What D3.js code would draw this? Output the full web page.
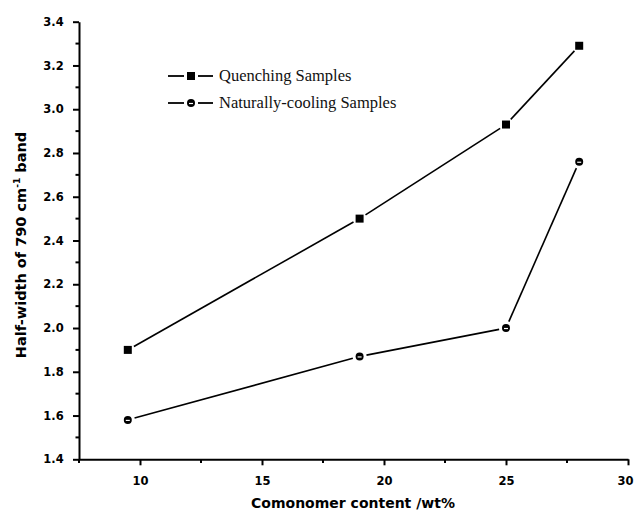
<!DOCTYPE html>
<html><head><meta charset="utf-8">
<script src="https://cdn.jsdelivr.net/npm/d3@7"></script>
<style>body{margin:0;background:#fff}</style></head>
<body><svg id="c" width="634" height="517"></svg>
<script>
const comonomer = [9.5, 19, 25, 28];
const quenching = [1.90, 2.50, 2.93, 3.29];
const naturallyCooling = [1.58, 1.87, 2.00, 2.76];
const seriesNames = ["Quenching Samples", "Naturally-cooling Samples"];
const xTicks = [10, 15, 20, 25, 30];
const yTicks = [1.4, 1.6, 1.8, 2.0, 2.2, 2.4, 2.6, 2.8, 3.0, 3.2, 3.4];

const svg = d3.select("#c");
const x = d3.scaleLinear().domain([7.5, 30]).range([79, 628]);
const y = d3.scaleLinear().domain([1.4, 3.4]).range([459.3, 21.7]);

const axisFont = "'DejaVu Sans', 'Liberation Sans', sans-serif";
const legendFont = "'Liberation Serif', 'DejaVu Serif', serif";

// minor ticks
const xMinor = d3.range(7.5, 30.01, 2.5).filter(v => !xTicks.includes(v));
const yMinor = d3.range(1.5, 3.41, 0.2);
svg.append("g").selectAll("line").data(xMinor).join("line")
  .attr("x1", d => x(d)).attr("x2", d => x(d)).attr("y1", 459.3).attr("y2", 463)
  .attr("stroke", "#000").attr("stroke-width", 2);
svg.append("g").selectAll("line").data(yMinor).join("line")
  .attr("y1", d => y(d)).attr("y2", d => y(d)).attr("x1", 79).attr("x2", 75.5)
  .attr("stroke", "#000").attr("stroke-width", 2);

const xAxis = svg.append("g").attr("transform", "translate(0,459.3)")
  .call(d3.axisBottom(x).tickValues(xTicks).tickFormat(d3.format("d")).tickSize(6).tickSizeOuter(0));
const yAxis = svg.append("g").attr("transform", "translate(79,0)")
  .call(d3.axisLeft(y).tickValues(yTicks).tickFormat(d3.format(".1f")).tickSize(6).tickSizeOuter(0));
[xAxis, yAxis].forEach(g => {
  g.select(".domain").attr("stroke-width", 2);
  g.selectAll(".tick line").attr("stroke-width", 2);
  g.selectAll(".tick text").attr("font-family", axisFont).attr("font-weight", "bold")
    .attr("font-size", 11.5).attr("fill", "#000");
});
xAxis.selectAll(".tick text").attr("dy", "1.45em");
// keep the last label inside the window
xAxis.selectAll(".tick text").filter(d => d === 30).attr("text-anchor", "end").attr("dx", 5);
yAxis.selectAll(".tick text").attr("dx", "-0.55em");

// axis titles
svg.append("text").attr("x", 353).attr("y", 508).attr("text-anchor", "middle")
  .attr("font-family", axisFont).attr("font-weight", "bold").attr("font-size", 14)
  .text("Comonomer content /wt%");
const yt = svg.append("text").attr("transform", "translate(26,245) rotate(-90)")
  .attr("text-anchor", "middle").attr("font-family", axisFont).attr("font-weight", "bold").attr("font-size", 14.5);
yt.append("tspan").text("Half-width of 790 cm");
yt.append("tspan").attr("dy", -6).attr("font-size", 9).text("-1");
yt.append("tspan").attr("dy", 6).text(" band");

// series
function drawSeries(vals, marker) {
  const pts = comonomer.map((c, i) => [x(c), y(vals[i])]);
  const gap = 7;
  const g = svg.append("g");
  for (let i = 0; i < pts.length - 1; i++) {
    const [x1, y1] = pts[i], [x2, y2] = pts[i + 1];
    const L = Math.hypot(x2 - x1, y2 - y1), ux = (x2 - x1) / L, uy = (y2 - y1) / L;
    g.append("line").attr("x1", x1 + ux * gap).attr("y1", y1 + uy * gap)
      .attr("x2", x2 - ux * gap).attr("y2", y2 - uy * gap)
      .attr("stroke", "#000").attr("stroke-width", 1.6);
  }
  pts.forEach(p => marker(g, p[0], p[1]));
}
function square(g, cx, cy) {
  g.append("rect").attr("x", cx - 4).attr("y", cy - 4).attr("width", 8).attr("height", 8).attr("fill", "#000");
}
function circ(g, cx, cy) {
  g.append("circle").attr("cx", cx).attr("cy", cy).attr("r", 4).attr("fill", "#000");
  g.append("line").attr("x1", cx - 2).attr("x2", cx + 2).attr("y1", cy + 0.5).attr("y2", cy + 0.5)
    .attr("stroke", "#fff").attr("stroke-width", 1.2);
}
drawSeries(quenching, square);
drawSeries(naturallyCooling, circ);

// legend
const legend = svg.append("g");
const markers = [square, circ];
seriesNames.forEach((name, i) => {
  const ly = 76 + i * 27;
  legend.append("line").attr("x1", 168).attr("x2", 184).attr("y1", ly).attr("y2", ly).attr("stroke", "#000").attr("stroke-width", 1.8);
  legend.append("line").attr("x1", 198).attr("x2", 213).attr("y1", ly).attr("y2", ly).attr("stroke", "#000").attr("stroke-width", 1.8);
  markers[i](legend, 191, ly);
  legend.append("text").attr("x", 219).attr("y", ly + 5).attr("font-family", legendFont)
    .attr("font-size", 16.5).attr("fill", "#111").text(name);
});
</script></body></html>
